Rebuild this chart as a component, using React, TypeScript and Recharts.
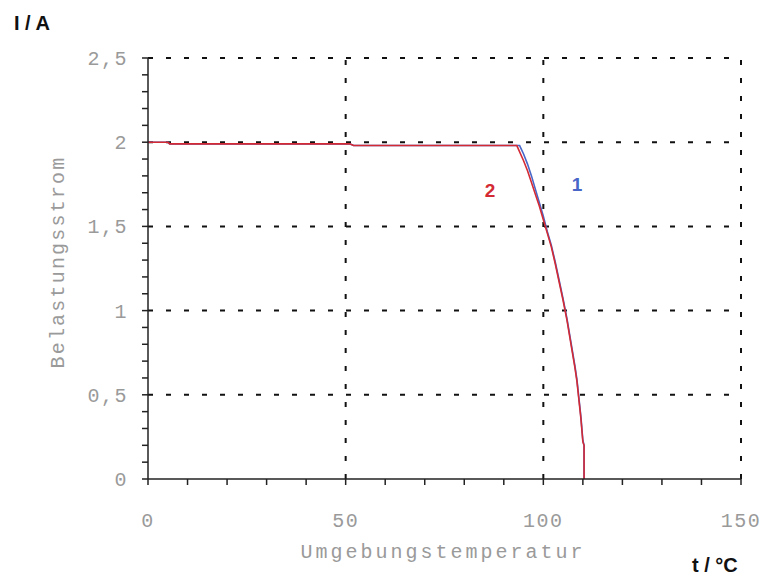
import { LineChart, Line, XAxis, YAxis, ReferenceLine, ReferenceDot } from 'recharts';

// temperature (°C) / current (A)
const redT = [0, 5, 5.5, 51, 52, 93.3, 95, 96, 97, 98, 99, 100, 101, 102, 103, 104, 105, 106, 107, 108, 108.5, 109, 109.5, 110, 110.3, 110.3];
const redI = [2.0, 2.0, 1.99, 1.99, 1.98, 1.98, 1.89, 1.83, 1.76, 1.69, 1.62, 1.54, 1.46, 1.38, 1.28, 1.17, 1.06, 0.94, 0.8, 0.66, 0.58, 0.47, 0.36, 0.22, 0.2, 0];

const blueT = [0, 5, 5.5, 51, 52, 94, 95, 96, 97, 98, 99, 100, 101, 102, 103, 104, 105, 106, 107, 108, 108.5, 109, 109.5, 110, 110.3, 110.3];
const blueI = [2.0, 2.0, 1.99, 1.99, 1.98, 1.98, 1.93, 1.87, 1.8, 1.72, 1.64, 1.56, 1.47, 1.39, 1.29, 1.18, 1.07, 0.95, 0.81, 0.67, 0.59, 0.48, 0.37, 0.23, 0.2, 0];

const xTicks = [0, 10, 20, 30, 40, 50, 60, 70, 80, 90, 100, 110, 120, 130, 140, 150];
const xLabelled = [0, 50, 100, 150];
const yTicks = [0, 0.1, 0.2, 0.3, 0.4, 0.5, 0.6, 0.7, 0.8, 0.9, 1, 1.1, 1.2, 1.3, 1.4, 1.5, 1.6, 1.7, 1.8, 1.9, 2, 2.1, 2.2, 2.3, 2.4, 2.5];
const yLabelled = [0, 0.5, 1, 1.5, 2, 2.5];
const xGrid = [50, 100, 150];
const yGrid = [0.5, 1, 1.5, 2, 2.5];

const redData = redT.map((t, i) => ({ t, i: redI[i] }));
const blueData = blueT.map((t, i) => ({ t, i: blueI[i] }));

const mono = '"Liberation Mono", "DejaVu Sans Mono", monospace';
const gray = '#9a9a9a';
const RED = '#d42a34';
const BLUE = '#4866c8';

function XTick({ x, y, payload }: any) {
  if (!xLabelled.includes(payload.value)) return <g />;
  return (
    <text x={x} y={y + 40} textAnchor="middle" fontFamily={mono} fontSize={20} letterSpacing={1.5} fill={gray}>
      {payload.value}
    </text>
  );
}

function YTick({ x, y, payload }: any) {
  const v = Math.round(payload.value * 10) / 10;
  if (!yLabelled.includes(v)) return <g />;
  return (
    <text x={x - 12} y={y + 7} textAnchor="end" fontFamily={mono} fontSize={20} letterSpacing={1.5} fill={gray}>
      {String(v).replace('.', ',')}
    </text>
  );
}

export default function App() {
  return (
    <div style={{ position: 'absolute', left: 0, top: 0, width: 767, height: 576, background: '#fff' }}>
      <LineChart width={767} height={576} margin={{ top: 58, right: 26, bottom: 67, left: 0 }}>
        <XAxis
          type="number"
          dataKey="t"
          domain={[0, 150]}
          ticks={xTicks}
          interval={0}
          tick={<XTick />}
          tickSize={6}
          height={30}
          stroke="#222"
          strokeWidth={1.5}
          allowDuplicatedCategory={false}
        />
        <YAxis
          type="number"
          dataKey="i"
          domain={[0, 2.5]}
          ticks={yTicks}
          interval={0}
          tick={<YTick />}
          tickSize={6}
          width={148}
          stroke="#222"
          strokeWidth={1.5}
        />
        {yGrid.map((v) => (
          <ReferenceLine key={'y' + v} y={v} stroke="#111" strokeWidth={2} strokeDasharray="5 13" />
        ))}
        {xGrid.map((v) => (
          <ReferenceLine key={'x' + v} x={v} stroke="#111" strokeWidth={2} strokeDasharray="5 13" />
        ))}
        <Line data={blueData} dataKey="i" type="linear" stroke={BLUE} strokeWidth={1.6} dot={false} isAnimationActive={false} />
        <Line data={redData} dataKey="i" type="linear" stroke={RED} strokeWidth={1.6} dot={false} isAnimationActive={false} />
        <ReferenceDot
          x={86.5}
          y={1.716}
          r={0}
          shape={(p: any) => (
            <text x={p.cx} y={p.cy + 7} textAnchor="middle" fontFamily="Liberation Sans, Arial, sans-serif" fontWeight="bold" fontSize={19} fill={RED}>
              2
            </text>
          )}
        />
        <ReferenceDot
          x={108.5}
          y={1.752}
          r={0}
          shape={(p: any) => (
            <text x={p.cx} y={p.cy + 7} textAnchor="middle" fontFamily="Liberation Sans, Arial, sans-serif" fontWeight="bold" fontSize={19} fill={BLUE}>
              1
            </text>
          )}
        />
        <text x={443} y={558} textAnchor="middle" fontFamily={mono} fontSize={20} letterSpacing={3} fill={gray}>
          Umgebungstemperatur
        </text>
        <text
          x={64}
          y={262}
          textAnchor="middle"
          transform="rotate(-90 64 262)"
          fontFamily={mono}
          fontSize={20}
          letterSpacing={2.2}
          fill={gray}
        >
          Belastungsstrom
        </text>
        <text x={14} y={30} fontFamily="Liberation Sans, Arial, sans-serif" fontWeight="bold" fontSize={20} fill="#111">
          I / A
        </text>
        <text x={692} y={572} fontFamily="Liberation Sans, Arial, sans-serif" fontWeight="bold" fontSize={20} fill="#111">
          t / °C
        </text>
      </LineChart>
    </div>
  );
}
